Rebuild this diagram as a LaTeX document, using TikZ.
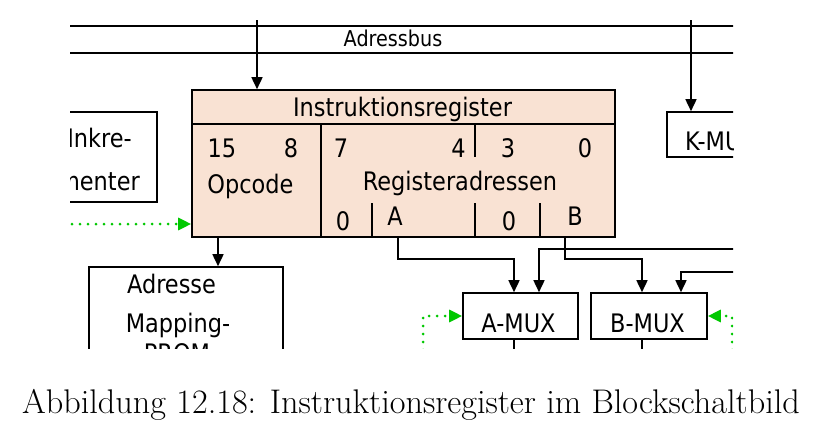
\documentclass[tikz,border=0pt]{standalone}
\usepackage{fontspec}
\newfontfamily\dv[FakeStretch=0.88]{DejaVu Sans}
\usetikzlibrary{arrows.meta}
\definecolor{peach}{RGB}{249,226,211}
\definecolor{ggreen}{RGB}{0,200,0}
\tikzset{
  box/.style={draw, line width=1.6pt, inner sep=0pt},
  lbl/.style={font=\dv\fontsize{25.5}{30}\selectfont, inner sep=0pt, anchor=base},
  wire/.style={line width=1.6pt},
  arr/.style={line width=1.6pt, -{Triangle[length=12pt,width=11pt]}},
  garr/.style={ggreen, line width=3pt, line cap=round, dash pattern=on 0pt off 8pt,
     -{Triangle[length=13pt,width=12pt,line cap=butt]}},
}
\begin{document}
\begin{tikzpicture}[x=1pt,y=-1pt]
\useasboundingbox (0,0) rectangle (814,428);
\begin{scope}
\clip (70,21) rectangle (733,348);
% bus
\coordinate (busL1) at (60,26); \coordinate (busR1) at (745,26);
\coordinate (busL2) at (60,53); \coordinate (busR2) at (745,53);
\draw[line width=1.3pt] (busL1) -- (busR1);
\draw[line width=1.3pt] (busL2) -- (busR2);
\node[font=\dv\fontsize{21.8}{26}\selectfont, inner sep=0pt, anchor=base] (busl) at (393,47) {Adressbus};
% boxes
\node[box, fill=peach, minimum width=423pt, minimum height=147pt] (ir) at (403.5,163.5) {};
\node[box, minimum width=117pt, minimum height=90pt] (inc) at (98.5,157) {};
\node[box, minimum width=113pt, minimum height=45pt] (kmux) at (723.5,134.5) {};
\node[box, minimum width=194pt, minimum height=133pt] (map) at (186,333.5) {};
\node[box, minimum width=115pt, minimum height=46pt] (amux) at (520.5,316) {};
\node[box, minimum width=116pt, minimum height=46pt] (bmux) at (649,316) {};
% IR internal lines
\coordinate (h1) at (0,124);
\draw[wire] (h1 -| ir.west) -- (h1 -| ir.east);
\coordinate (v1) at (321,124); \draw[wire] (v1) -- (v1 |- ir.south);
\coordinate (v2) at (475,124); \coordinate (v2e) at (475,157); \draw[wire] (v2) -- (v2e);
\coordinate (v3) at (372,203); \draw[wire] (v3) -- (v3 |- ir.south);
\coordinate (v4) at (475,203); \draw[wire] (v4) -- (v4 |- ir.south);
\coordinate (v5) at (540,203); \draw[wire] (v5) -- (v5 |- ir.south);
% IR labels
\node[lbl] (irt) at (402.5,117) {Instruktionsregister};
\node[lbl] (n15) at (222,157) {15};
\node[lbl] (n8) at (291,157) {8};
\node[lbl] (n7) at (341,157) {7};
\node[lbl] (n4) at (458.5,157) {4};
\node[lbl] (n3) at (508,157) {3};
\node[lbl] (n0a) at (585,157) {0};
\node[lbl] (opc) at (250.5,193) {Opcode};
\node[lbl] (rega) at (460,190) {Registeradressen};
\node[lbl] (z1) at (343,230) {0};
\node[lbl] (fa) at (395,225) {A};
\node[lbl] (z2) at (509,230) {0};
\node[lbl] (fb) at (575,225) {B};
% other labels
\node[lbl, anchor=base east] (inc1) at (132,147) {Inkre-};
\node[lbl, anchor=base east] (inc2) at (140,190) {menter};
\node[lbl, anchor=base west] (kl) at (685,150) {K-MUX};
\node[lbl] (m1) at (171.5,293) {Adresse};
\node[lbl] (m2) at (178,332) {Mapping-};
\node[lbl] (m3) at (177,362) {PROM};
\node[lbl] (al) at (518.5,332) {A-MUX};
\node[lbl] (bl) at (647.5,332) {B-MUX};
% connectors
\coordinate (bus1) at (257,20);
\draw[arr] (bus1) -- (bus1 |- ir.north);
\coordinate (bus2) at (691,20);
\draw[arr] (bus2) -- (bus2 |- kmux.north);
\coordinate (g1) at (72,224);
\draw[garr] (g1) -- (g1 -| ir.west);
\coordinate (irm) at (218,237);
\draw[arr] (irm) -- (irm |- map.north);
\coordinate (Aout) at (398,237); \coordinate (A1) at (514,259);
\draw[arr] (Aout) |- (A1) -- (A1 |- amux.north);
\coordinate (R1) at (745,249); \coordinate (xa2) at (539,0);
\draw[arr] (R1) -| (xa2 |- amux.north);
\coordinate (Bout) at (565,237); \coordinate (B1) at (642,259);
\draw[arr] (Bout) |- (B1) -- (B1 |- bmux.north);
\coordinate (R2) at (745,272); \coordinate (xb2) at (681,0);
\draw[arr] (R2) -| (xb2 |- bmux.north);
\coordinate (ao) at (514,360); \draw[wire] (ao |- amux.south) -- (ao);
\coordinate (bo) at (642,360); \draw[wire] (bo |- bmux.south) -- (bo);
\coordinate (ga) at (423,350);
\draw[garr] (ga) |- (amux.west);
\coordinate (gb) at (732,350);
\draw[garr] (gb) |- (bmux.east);
\end{scope}
\node[font=\fontsize{34.2}{38}\selectfont, inner sep=0pt, anchor=base] (cap) at (411,413) {Abbildung 12.18: Instruktionsregister im Blockschaltbild};
\end{tikzpicture}
\end{document}
